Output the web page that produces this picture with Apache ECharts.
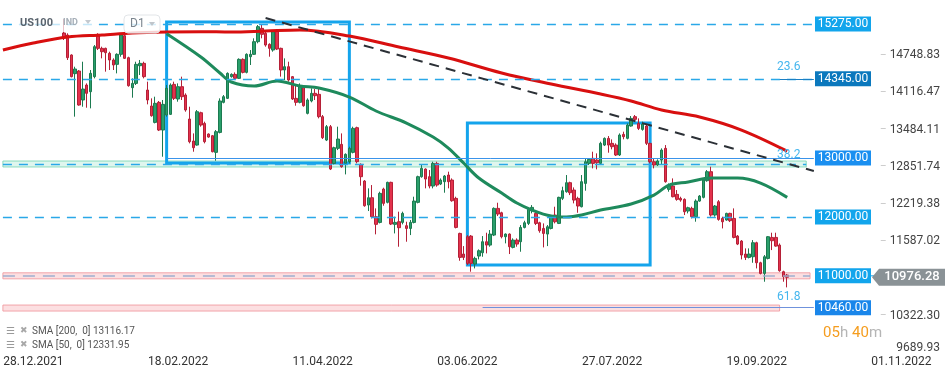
<!DOCTYPE html>
<html><head><meta charset="utf-8">
<script src="https://cdn.jsdelivr.net/npm/echarts@6/dist/echarts.min.js"></script>
<style>html,body{margin:0;padding:0;background:#fff}#c{width:949px;height:378px}</style>
</head><body><div id="c"></div>
<script>
// ---------- data ----------
const slotCount = 249;            // daily slots on the category axis (incl. empty future space)
const candleStart = 16;           // slot index of first candle
const openV = [
15122,15088,14749,14432,14477,13985,14239,14126,14381,15100,
14862,14862,14777,14664,14590,14760,15077,14703,14194,14267,
14567,14607,14154,13883,13605,13945,13475,13730,13741,14250,
14002,14211,14069,13662,13288,13220,13769,13588,13407,13379,
13096,13435,13945,14013,14381,14420,14352,14675,14454,14720,
14760,14975,15201,15117,14930,14833,15145,14862,14494,14550,
14381,14013,13945,14211,13758,13968,14098,14081,13702,13305,
13532,12909,13164,13232,12909,12938,13096,13515,12892,12609,
12202,12326,12004,11907,12473,12247,12587,11874,11919,11907,
11851,11805,11907,12247,12683,12813,12683,12524,12909,12558,
12598,12711,12626,12315,11720,11370,11664,11675,11200,11336,
11392,11579,11522,11692,12145,12071,11664,11709,11483,11607,
11579,11822,11890,12105,12060,11901,11805,11709,11805,12032,
11890,12315,12428,12581,12456,12315,12173,12569,12909,12994,
12966,12909,13220,13333,13249,13220,13051,13401,13334,13543,
13702,13588,13486,13543,13249,12937,12881,12966,13164,12468,
12524,12383,12315,12298,12100,12145,12004,12269,12332,12615,
12768,12032,12258,11975,11947,12060,11975,11675,11590,11370,
11313,11324,11562,11222,11041,11296,11652,11652,11522,11070,
11013];
const closeV = [
15037,14703,14381,14511,13900,14171,14098,14437,14890,14862,
14805,14788,14664,14579,14760,15088,14692,14228,14267,14590,
14607,14381,13985,13718,13928,13475,13911,14183,14239,14013,
14211,14041,13815,13277,13175,13786,13560,13277,13356,13107,
13447,13968,14041,14437,14420,14352,14675,14454,14760,14760,
14975,15230,15100,14918,14862,15145,14850,14494,14550,14324,
14002,13945,14211,13888,13985,14098,14058,13702,13345,13532,
12813,13175,13322,12852,13062,13164,13503,12938,12683,12190,
12326,12004,11874,12400,12230,12587,11879,11907,11817,12060,
11805,11907,12269,12683,12824,12643,12524,12909,12541,12626,
12694,12598,12275,11822,11313,11313,11211,11211,11296,11426,
11579,11522,11709,12145,12049,11664,11709,11494,11607,11539,
11822,11901,12128,12162,11890,11766,11720,11833,11992,11918,
12332,12445,12581,12411,12286,12185,12598,12937,12977,12909,
12920,13249,13333,13220,13192,13051,13390,13362,13560,13673,
13656,13503,13577,13249,12937,12881,12949,13135,12598,12541,
12343,12298,12286,12088,12156,12004,12269,12354,12626,12768,
12032,12185,11958,11918,12060,11936,11652,11539,11353,11313,
11370,11562,11222,11041,11324,11664,11596,11505,11087,10985,
10976.28];
const lowV = [
15003,14664,14369,13702,13888,13871,13854,13843,14352,14833,
14692,14466,14494,14494,14437,14720,14681,14211,14024,14239,
14409,14352,13911,13702,13588,13458,13022,13702,13730,13985,
13956,13985,13786,13249,13107,13209,13532,13249,13345,13096,
12954,13418,13928,14002,14364,14341,14341,14437,14437,14579,
14749,14947,15032,14890,14720,14805,14833,14381,14324,14296,
13985,13888,13928,13871,13741,13945,13985,13673,13322,13288,
12796,12892,13135,12836,12722,12909,13079,12909,12530,12173,
12100,11975,11704,11890,12190,12230,11862,11720,11494,11874,
11579,11692,11890,12230,12666,12485,12485,12485,12513,12541,
12411,12485,12258,11805,11256,11268,11183,11070,11126,11279,
11324,11381,11494,11675,12015,11636,11551,11370,11466,11494,
11409,11805,11862,12060,11862,11732,11483,11505,11788,11890,
11879,12286,12411,12371,12230,12071,12162,12445,12881,12824,
12807,12881,13203,13090,13147,13034,13034,13317,13317,13532,
13617,13475,13464,13220,12909,12824,12864,12881,12581,12428,
12332,12275,12258,12032,12060,11975,11919,12258,12315,12598,
12004,12004,11936,11805,11936,11913,11636,11522,11279,11268,
11296,11222,11126,11024,10900,11279,11437,11494,11070,10900,
10804];
const highV = [
15360,15117,14760,14550,14494,14635,14267,14494,14918,15117,
14890,14873,14805,14692,14777,15100,15117,14720,14352,14635,
14664,14635,14296,14013,14041,13968,13985,14239,14267,14296,
14267,14381,14098,13871,13418,13815,13786,13617,13418,13390,
13475,14013,14069,14454,14437,14454,14692,14692,14777,14833,
15032,15258,15258,15145,14947,15173,15173,14873,14692,14635,
14392,14239,14267,14239,14013,14183,14171,14183,13730,13560,
13560,13192,13532,13418,13079,13192,13532,13532,12909,12626,
12485,12541,12145,12428,12496,12598,12598,12004,12089,12089,
11919,11947,12343,12700,12881,12824,12796,12937,12937,12654,
12711,12768,12654,12343,11732,11505,11692,11692,11325,11449,
11675,11732,11777,12162,12241,12088,11720,11720,11636,11636,
11862,11935,12145,12201,12088,11918,11890,11862,12032,12173,
12343,12513,12711,12598,12501,12343,12711,12994,12994,13107,
13079,13277,13350,13373,13316,13249,13418,13447,13588,13713,
13730,13673,13617,13560,13260,12994,12977,13164,13220,12569,
12654,12456,12343,12315,12173,12173,12298,12371,12637,12796,
12852,12202,12286,12004,12071,12071,12145,11692,11607,11466,
11466,11607,11579,11239,11353,11675,11732,11732,11550,11087,
11030];

// SMA readings (slot index -> value)
const sma200Idx = [0, 8, 17, 26, 34, 43, 52, 60, 69, 78, 91, 104, 117, 131, 144, 157, 165, 173, 183, 194, 206];
const sma200Val = [14833, 14952, 15054, 15088, 15122, 15139, 15145, 15139, 15156, 15173, 15071, 14884, 14698, 14443, 14256, 14086, 13968, 13815, 13696, 13475, 13116.17];
const sma50Idx = [43, 52, 57, 60, 66, 72, 78, 83, 91, 98, 106, 113, 117, 121, 125, 131, 135, 139, 144, 148, 152, 157, 165, 171, 175, 180, 186, 193, 199, 206];
const sma50Val = [15110, 14715, 14443, 14290, 14222, 14307, 14222, 14188, 14035, 13798, 13594, 13356, 13169, 12915, 12660, 12405, 12236, 12117, 12015, 11998, 12032, 12117, 12219, 12371, 12541, 12592, 12660, 12660, 12575, 12331.95];

// axis ticks
const xTickIdx = [8, 46, 84, 122, 160, 198, 236];
const xTickText = ['28.12.2021', '18.02.2022', '11.04.2022', '03.06.2022', '27.07.2022', '19.09.2022', '01.11.2022'];
const yMin = 9689.93, yMax = 15682.5, yStep = 632.36;
const yTickValues = [9689.93, 10322.30, 11587.02, 12219.38, 12851.74, 13484.11, 14116.47, 14748.83];

// levels and drawings
const levelValues = [15275, 14345, 13000, 12000, 11000, 10460];
const lastPrice = 10976.28;
const zoneUpper = [12949, 11051, 10504];
const zoneLower = [12848, 10949, 10402];
const zoneMid = [12898, 10995];
const trendFrom = [69, 15377], trendTo = [213, 12779];
const box1 = [[43, 15309], [91, 12915]];
const box2 = [[122, 13594], [170, 11183]];
const fibText = ['23.6', '38.2', '61.8'];
const fibLevel = [14345, 13000, 10460];
const smaLegend = ['SMA [200,  0] 13116.17', 'SMA [50,  0] 12331.95'];

// ---------- chart ----------
const cats = [];
for (let i = 0; i < slotCount; i++) cats.push(String(i));
const candleData = openV.map((o, k) => [candleStart + k, o, closeV[k], lowV[k], highV[k]]);
const sma200 = sma200Idx.map((x, k) => [x, sma200Val[k]]);
const sma50 = sma50Idx.map((x, k) => [x, sma50Val[k]]);

const dashBlue = '#2aa8e8';
const seg = (x0, x1, v, ls) => [{coord: [x0, v], lineStyle: ls}, {coord: [x1, v]}];

const chart = echarts.init(document.getElementById('c'), null, {renderer: 'canvas'});
chart.setOption({
  animation: false,
  textStyle: {fontFamily: 'Roboto'},
  grid: {left: 1, right: 0, top: 0, bottom: 25},
  xAxis: {
    type: 'category', data: cats, boundaryGap: true,
    axisLine: {show: false}, axisTick: {show: false}, splitLine: {show: false},
    axisLabel: {
      color: '#333', fontSize: 12, margin: 3, fontFamily: 'Roboto',
      interval: (i) => xTickIdx.indexOf(i) >= 0,
      formatter: (v) => { const k = xTickIdx.indexOf(Number(v)); return k >= 0 ? xTickText[k] : ''; }
    }
  },
  yAxis: [
    {type: 'value', min: yMin, max: yMax, show: false, scale: true, splitLine: {show: false}},
    {type: 'value', min: 0, max: yMax - yMin, interval: yStep, position: 'right',
     axisLine: {show: false}, axisTick: {show: false}, splitLine: {show: false},
     axisLabel: {
       inside: true, margin: 9, color: '#444', fontSize: 12, fontFamily: 'Roboto',
       formatter: (v) => {
         const p = v + yMin;
         const t = yTickValues.find(t => Math.abs(t - p) < 1);
         if (t === undefined) return '';
         if (t === yTickValues[0]) return '{b|' + t.toFixed(2) + '}';
         return '{t|–}' + t.toFixed(2);
       },
       rich: {
         t: {color: '#c4c4c4', fontSize: 10, padding: [0, 3, 0, 0], fontFamily: 'Roboto'},
         b: {padding: [0, 0, 10, 0], fontSize: 12, color: '#444', fontFamily: 'Roboto'}
       }
     }}
  ],
  series: [
    {
      type: 'candlestick', name: 'US100', data: candleData, encode: {x: 0, y: [1, 2, 3, 4]},
      barWidth: 3, z: 2,
      itemStyle: {color: '#2a9f6b', color0: '#e3324c', borderColor: '#1c7a50', borderColor0: '#b52037', borderWidth: 1}
    },
    {type: 'line', name: 'SMA200', data: sma200, smooth: 0.35, showSymbol: false, connectNulls: true, z: 3,
     lineStyle: {color: '#d80f0f', width: 3}},
    {type: 'line', name: 'SMA50', data: sma50, smooth: 0.35, showSymbol: false, connectNulls: true, z: 3,
     lineStyle: {color: '#1e8a5c', width: 3}},
    {
      type: 'line', name: 'levels', data: [], z: 4, silent: true,
      markArea: {
        silent: true,
        data: [
          [{coord: [0, zoneUpper[0]], itemStyle: {color: 'rgba(170,232,210,0.38)', borderColor: 'rgba(120,214,180,0.85)', borderWidth: 1}}, {coord: [211, zoneLower[0]]}],
          [{coord: [0, zoneUpper[1]], itemStyle: {color: 'rgba(247,178,184,0.42)', borderColor: 'rgba(240,150,158,0.85)', borderWidth: 1}}, {coord: [212, zoneLower[1]]}],
          [{coord: [0, zoneUpper[2]], itemStyle: {color: 'rgba(247,178,184,0.42)', borderColor: 'rgba(240,150,158,0.85)', borderWidth: 1}}, {coord: [204, zoneLower[2]]}]
        ]
      },
      markLine: {
        silent: true, symbol: ['none', 'none'], label: {show: false},
        data: [
          seg(0, 213, levelValues[0], {color: dashBlue, width: 1.3, type: [9, 7]}),
          seg(0, 213, levelValues[1], {color: dashBlue, width: 1.3, type: [9, 7]}),
          seg(204, 213, levelValues[1], {color: '#1a7fc4', width: 1, type: 'solid'}),
          seg(43, 213, levelValues[2], {color: '#3a93ea', width: 1, type: 'solid'}),
          seg(0, 211, zoneMid[0], {color: dashBlue, width: 1.3, type: [9, 7]}),
          seg(0, 213, levelValues[3], {color: dashBlue, width: 1.3, type: [9, 7]}),
          seg(0, 212, zoneMid[1], {color: '#9db0d0', width: 1.5, type: [12, 8]}),
          seg(126, 213, levelValues[5], {color: '#6f92dc', width: 1, type: 'solid'}),
          [{coord: trendFrom, lineStyle: {color: '#2b3036', width: 2, type: [10, 7]}}, {coord: trendTo}]
        ]
      }
    },
    {
      type: 'line', name: 'boxes', data: [], z: 5, silent: true,
      markArea: {
        silent: true,
        itemStyle: {color: 'rgba(0,0,0,0)', borderColor: '#14a4ec', borderWidth: 3},
        data: [
          [{coord: box1[0]}, {coord: box1[1]}],
          [{coord: box2[0]}, {coord: box2[1]}]
        ]
      }
    }
  ]
});

// ---------- overlays (positions through the axis scale) ----------
const yPx = (v) => chart.convertToPixel({yAxisIndex: 0}, v);
const g = [];
const txt = (x, y, text, font, fill, align) => ({
  type: 'text', x: x, y: y, z: 100,
  style: {text: text, font: font, fill: fill, textAlign: align || 'left', align: align || 'left', textVerticalAlign: 'middle', verticalAlign: 'middle'}
});
const levelBg = ['#12a5ec', '#0b78bd', '#1a8ff0', '#12a5ec', '#12a5ec', '#1a86ea'];
levelValues.forEach((v, k) => {
  const y = yPx(v);
  g.push({type: 'rect', z: 100, shape: {x: 815, y: y - 7.5, width: 56, height: 15}, style: {fill: levelBg[k]}});
  g.push(txt(843, y, v.toFixed(2), '12px Roboto', '#ffffff', 'center'));
});
// current price marker
const yl = yPx(lastPrice);
g.push({type: 'line', z: 100, shape: {x1: 871, y1: yPx(levelValues[4]), x2: 876, y2: yPx(levelValues[4])}, style: {stroke: '#1aa3e8', lineWidth: 1}});
g.push({type: 'polygon', z: 100, shape: {points: [[872, yl], [879, yl - 8.5], [945, yl - 8.5], [945, yl + 8.5], [879, yl + 8.5]]}, style: {fill: '#8a9296'}});
g.push(txt(912, yl, lastPrice.toFixed(2), '500 13px Roboto', '#ffffff', 'center'));
// fib labels
const fibDy = [-12, -3, -11];
fibText.forEach((t, k) => g.push(txt(777, yPx(fibLevel[k]) + fibDy[k], t, '12px Roboto', '#45b6ee', 'left')));
// top-left instrument overlay
g.push({type: 'rect', z: 99, shape: {x: 14, y: 13, width: 84, height: 19, r: 3}, style: {fill: 'rgba(255,255,255,0.72)'}});
g.push(txt(20, 23, 'US100', 'bold 11px Roboto', '#5a646e', 'left'));
g.push(txt(63, 23, 'IND', 'bold 9px Roboto', '#a6afb8', 'left'));
g.push({type: 'polygon', z: 100, shape: {points: [[85, 20], [91, 20], [88, 24]]}, style: {fill: '#c3c9cf'}});
g.push({type: 'rect', z: 100, shape: {x: 124, y: 15, width: 36, height: 18, r: 4}, style: {fill: 'rgba(255,255,255,0.8)', stroke: '#e2e5e8', lineWidth: 1}});
g.push(txt(130, 24, 'D1', '12px Roboto', '#7b858e', 'left'));
g.push({type: 'polygon', z: 100, shape: {points: [[149, 22], [155, 22], [152, 26]]}, style: {fill: '#bfc5cb'}});
// SMA legend
[331, 345].forEach((y, k) => {
  g.push(txt(6, y, '☰', '10px "DejaVu Sans"', '#9a9a9a', 'left'));
  g.push(txt(20, y, '✖', '9px "DejaVu Sans"', '#a8a8a8', 'left'));
  g.push(txt(32, y, smaLegend[k], '10px Roboto', '#555555', 'left'));
});
// candle timer
g.push(txt(823, 333, '05', '15px Roboto', '#f59d1f', 'left'));
g.push(txt(840, 333, 'h', '15px Roboto', '#b5b5b5', 'left'));
g.push(txt(852, 333, '40', '15px Roboto', '#f59d1f', 'left'));
g.push(txt(869, 333, 'm', '15px Roboto', '#b5b5b5', 'left'));

chart.setOption({graphic: g});
</script></body></html>
